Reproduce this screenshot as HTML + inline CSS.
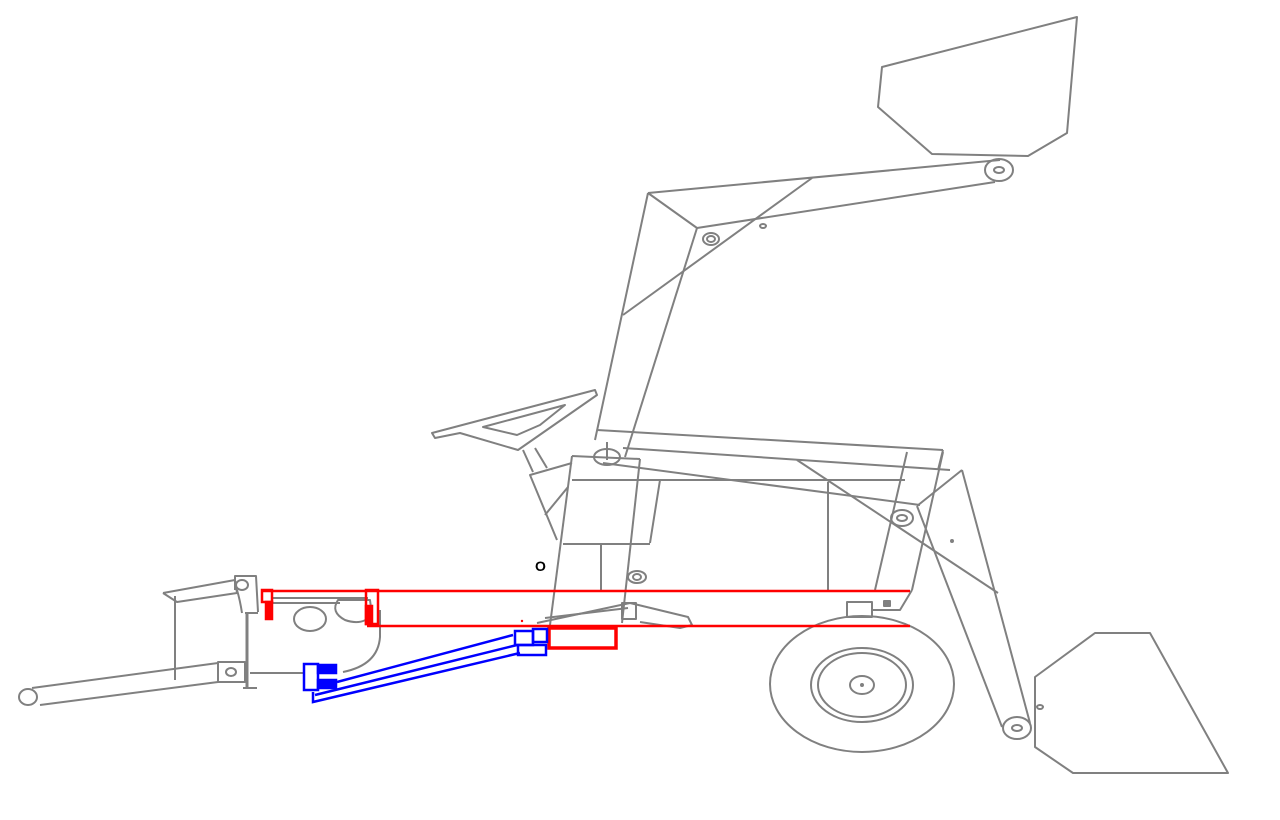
<!DOCTYPE html>
<html><head><meta charset="utf-8"><style>html,body{margin:0;padding:0;background:#fff}svg{display:block}</style></head>
<body>
<svg width="1280" height="820" viewBox="0 0 1280 820" xmlns="http://www.w3.org/2000/svg">
<g fill="none" stroke="#808080" stroke-width="2" stroke-linejoin="round">
<polygon points="882,67 1077,17 1067,133 1028,156 932,154 878,107"/>
<line x1="648" y1="193" x2="1000" y2="160"/>
<line x1="697" y1="228" x2="995" y2="182"/>
<line x1="648" y1="193" x2="697" y2="228"/>
<line x1="623" y1="315" x2="812" y2="178"/>
<line x1="648" y1="193" x2="595" y2="440"/>
<line x1="697" y1="228" x2="625" y2="457"/>
<ellipse cx="999" cy="170" rx="14" ry="11"/>
<ellipse cx="999" cy="170" rx="5" ry="3"/>
<ellipse cx="711" cy="239" rx="8" ry="6"/>
<ellipse cx="711" cy="239" rx="4" ry="3"/>
<ellipse cx="763" cy="226" rx="3" ry="2"/>
<polygon points="432,433 595,390 597,395 518,450 460,433 435,438"/>
<polygon points="483,427 565,405 540,425 517,435"/>
<line x1="523" y1="450" x2="533" y2="472"/>
<line x1="535" y1="448" x2="547" y2="468"/>
<polyline points="572,463 530,475 557,540"/>
<line x1="545" y1="515" x2="568" y2="487"/>
<line x1="597" y1="430" x2="943" y2="450"/>
<line x1="943" y1="450" x2="938" y2="470"/>
<line x1="623" y1="448" x2="950" y2="470"/>
<line x1="590" y1="480" x2="905" y2="480"/>
<line x1="603" y1="463" x2="920" y2="505"/>
<line x1="797" y1="460" x2="998" y2="593"/>
<line x1="828" y1="482" x2="828" y2="590"/>
<line x1="907" y1="452" x2="875" y2="590"/>
<line x1="943" y1="452" x2="912" y2="590"/>
<polyline points="872,610 900,610 912,590"/>
<rect x="884" y="601" width="6" height="5" fill="#808080"/>
<line x1="917" y1="506" x2="962" y2="470"/>
<line x1="962" y1="470" x2="1030" y2="723"/>
<line x1="917" y1="506" x2="1002" y2="727"/>
<ellipse cx="902" cy="518" rx="11" ry="8"/>
<ellipse cx="902" cy="518" rx="5" ry="3"/>
<circle cx="952" cy="541" r="1" fill="#808080"/>
<ellipse cx="1017" cy="728" rx="14" ry="11"/>
<ellipse cx="1017" cy="728" rx="5" ry="3"/>
<line x1="572" y1="456" x2="640" y2="459"/>
<line x1="640" y1="459" x2="622" y2="623"/>
<line x1="572" y1="480" x2="660" y2="480"/>
<line x1="660" y1="480" x2="650" y2="543"/>
<line x1="563" y1="544" x2="650" y2="544"/>
<line x1="572" y1="456" x2="550" y2="625"/>
<line x1="601" y1="545" x2="601" y2="590"/>
<ellipse cx="607" cy="457" rx="13" ry="8"/>
<line x1="607" y1="442" x2="607" y2="460"/>
<ellipse cx="637" cy="577" rx="9" ry="6"/>
<ellipse cx="637" cy="577" rx="4" ry="3"/>
<polyline points="537,623 630,603 688,617 692,625 680,628 640,622"/>
<line x1="545" y1="618" x2="628" y2="608"/>
<rect x="622" y="603" width="14" height="16"/>
<rect x="847" y="602" width="25" height="15"/>
<ellipse cx="862" cy="684" rx="92" ry="68"/>
<ellipse cx="862" cy="685" rx="51" ry="37"/>
<ellipse cx="862" cy="685" rx="44" ry="32"/>
<ellipse cx="862" cy="685" rx="12" ry="9"/>
<circle cx="862" cy="685" r="1" fill="#808080"/>
<polygon points="1035,677 1095,633 1150,633 1228,773 1073,773 1035,747"/>
<ellipse cx="1040" cy="707" rx="3" ry="2"/>
<polyline points="163,593 235,580 237,593 177,602 163,593"/>
<line x1="175" y1="596" x2="175" y2="680"/>
<polyline points="235,590 235,576 256,576 258,612"/>
<path d="M237,590 Q240,600 242,613"/>
<line x1="247" y1="613" x2="247" y2="688" stroke-width="3"/>
<line x1="245" y1="613" x2="258" y2="613"/>
<line x1="243" y1="688" x2="257" y2="688"/>
<ellipse cx="242" cy="585" rx="6" ry="5"/>
<polyline points="32,688 218,663"/>
<polyline points="40,705 218,682"/>
<ellipse cx="28" cy="697" rx="9" ry="8"/>
<rect x="218" y="662" width="27" height="20"/>
<ellipse cx="231" cy="672" rx="5" ry="4"/>
<line x1="250" y1="673" x2="303" y2="673"/>
<path d="M380,610 L380,637 Q378,665 343,672"/>
<ellipse cx="310" cy="619" rx="16" ry="12"/>
<path d="M338,600 Q330,612 345,620 Q362,626 372,615 L370,600 Z"/>
<line x1="273" y1="598" x2="368" y2="598"/>
<line x1="273" y1="603" x2="340" y2="603"/>
</g>
<text x="535" y="571" font-family="Liberation Sans, sans-serif" font-size="14" font-weight="bold" fill="#000">O</text>
<g fill="none" stroke="#ff0000" stroke-width="2.5">
<line x1="262" y1="591" x2="910" y2="591"/>
<line x1="367" y1="626" x2="910" y2="626"/>
<rect x="549" y="628" width="67" height="20" stroke-width="3.5"/>
<rect x="262" y="590" width="10" height="12"/>
<rect x="266" y="602" width="6" height="17" fill="#ff0000"/>
<rect x="366" y="590" width="12" height="34"/>
<rect x="366" y="606" width="6" height="18" fill="#ff0000"/>
</g>
<circle cx="522" cy="621" r="1.2" fill="#ff0000"/>
<g fill="none" stroke="#0000ff" stroke-width="2.5">
<line x1="337" y1="682" x2="513" y2="635"/>
<line x1="315" y1="695" x2="517" y2="645"/>
<polyline points="313,692 313,702 520,653"/>
<rect x="304" y="664" width="14" height="26"/>
<rect x="318" y="665" width="18" height="8" fill="#0000ff"/>
<rect x="318" y="680" width="18" height="8" fill="#0000ff"/>
<rect x="515" y="631" width="18" height="14"/>
<rect x="533" y="629" width="14" height="13"/>
<rect x="518" y="645" width="28" height="10"/>
</g>
</svg>
</body></html>
